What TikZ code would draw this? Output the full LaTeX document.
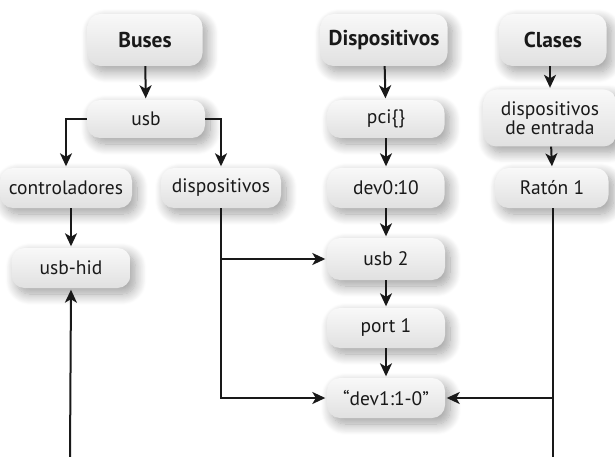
\documentclass[tikz,border=0pt]{standalone}
\usepackage{fontspec}
\setmainfont{PT Sans}
\usetikzlibrary{arrows.meta,shadows.blur}

\tikzset{
  box/.style={rounded corners=13pt, minimum height=40pt, inner sep=1pt,
    top color=gray!5, bottom color=gray!24, draw=none,
    text=black!90, font=\fontsize{19.5}{15}\selectfont, align=center,
    blur shadow={shadow xshift=5pt, shadow yshift=-6pt, shadow blur steps=14,
      shadow blur radius=11pt, shadow opacity=38}},
  head/.style={box, minimum height=52pt, font=\fontsize{21.5}{18}\selectfont\bfseries},
  link/.style={line width=2pt, draw=black!90,
    -{Stealth[length=13pt, width=12pt, inset=3.5pt]}, shorten >=1.5pt},
  wire/.style={line width=2pt, draw=black!90}
}

\begin{document}
\begin{tikzpicture}[x=1pt, y=-1pt]
  \useasboundingbox (0,0) rectangle (615,457);

  % column headers
  \node[head, minimum width=115pt] (buses) at (145,40) {Buses};
  \node[head, minimum width=127pt] (devs)  at (384,40) {Dispositivos};
  \node[head, minimum width=107pt] (cls)   at (553,40) {Clases};

  % bus tree
  \node[box, minimum width=118pt, minimum height=38pt] (usb)  at (146,119) {usb};
  \node[box, minimum width=132pt] (ctrl) at (66,188)  {controladores};
  \node[box, minimum width=120pt] (disp) at (221,188) {dispositivos};
  \node[box, minimum width=119pt] (hid)  at (71,268)  {usb-hid};

  % device tree
  \node[box, minimum width=117pt, minimum height=38pt] (pci)  at (386,119) {pci\{\}};
  \node[box, minimum width=117pt] (dev0) at (386,188) {dev0:10};
  \node[box, minimum width=118pt, minimum height=42pt] (usbtwo) at (386,259) {usb 2};
  \node[box, minimum width=118pt] (port) at (386,328) {port 1};
  \node[box, minimum width=118pt] (devone) at (386,398) {“dev1:1-0”};

  % class tree
  \node[box, minimum width=133pt, minimum height=57pt] (input) at (550,118) {dispositivos\\de entrada};
  \node[box, minimum width=113pt] (mouse) at (552,188) {Ratón 1};

  % free ends at the lower border
  \coordinate (hidend)   at (70,457);
  \coordinate (mouseend) at (553,457);

  % vertical links
  \draw[link] (buses) -- (usb);
  \draw[link] (devs) -- (pci);
  \draw[link] (pci) -- (dev0);
  \draw[link] (dev0) -- (usbtwo);
  \draw[link] (usbtwo) -- (port);
  \draw[link] (port) -- (devone);
  \draw[link] (cls.south -| input) -- (input);
  \draw[link] (input) -- (mouse.north);
  \draw[link] (ctrl.south -| hid) -- (hid);

  % branches of the usb bus
  \draw[link] (usb.west) -| (ctrl.north);
  \draw[link] (usb.east) -| (disp.north);

  % links into the device tree
  \draw[link] (disp.south) |- (usbtwo.west);
  \draw[link] (disp.south) |- (devone.west);
  \draw[wire] (mouse.south -| mouseend) -- (mouseend);
  \draw[link] (mouse.south -| mouseend) |- (devone.east);
  \draw[link] (hidend) -- (hid.south);
\end{tikzpicture}
\end{document}
